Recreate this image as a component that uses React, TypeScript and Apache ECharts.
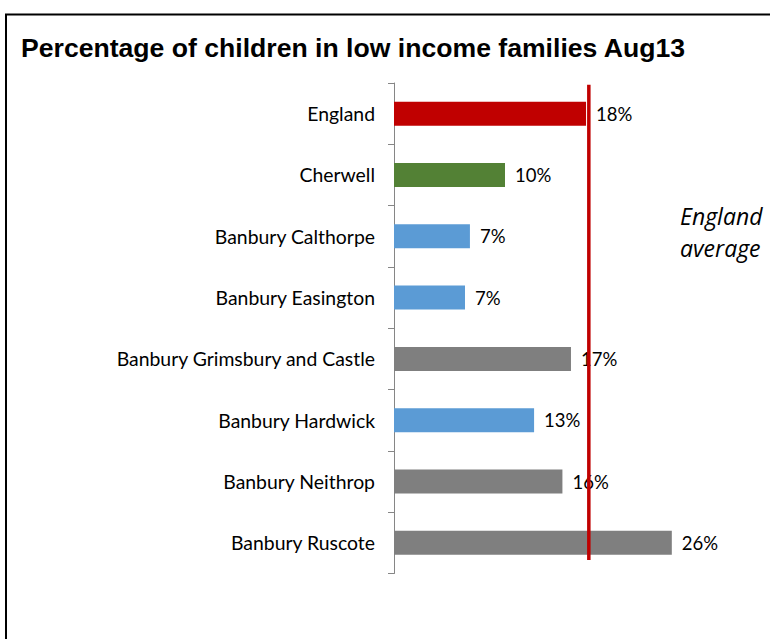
import React, { useEffect, useRef } from "react";
import * as echarts from "echarts";

const titleText = "Percentage of children in low income families Aug13";
const categories = [
  "England",
  "Cherwell",
  "Banbury Calthorpe",
  "Banbury Easington",
  "Banbury Grimsbury and Castle",
  "Banbury Hardwick",
  "Banbury Neithrop",
  "Banbury Ruscote",
];
const values = [17.96, 10.38, 7.1, 6.64, 16.55, 13.1, 15.75, 25.98];
const barColors = ["#C00000", "#538135", "#5B9BD5", "#5B9BD5", "#7F7F7F", "#5B9BD5", "#7F7F7F", "#7F7F7F"];
const englandAverage = 18.22;
const averageLineSpan = [0.03, 7.78];
const annotationLines = ["England", "average"];

export default function App() {
  const ref = useRef<HTMLDivElement>(null);
  useEffect(() => {
    if (!ref.current) return;
    const chart = echarts.init(ref.current, undefined, { renderer: "svg" });
    const font = "Lato";
    chart.setOption({
      animation: false,
      backgroundColor: "#ffffff",
      grid: { left: 394, top: 83, right: 55.2, bottom: 65.5, containLabel: false },
      xAxis: { type: "value", min: 0, max: 30, show: false },
      yAxis: [
        {
          type: "category",
          data: categories,
          inverse: true,
          axisLine: { show: true, lineStyle: { color: "#868686", width: 1 } },
          axisTick: { show: true, inside: false, length: 6, lineStyle: { color: "#868686" } },
          axisLabel: { fontFamily: font, fontSize: 19.4, color: "#000000", margin: 19 },
          splitLine: { show: false },
        },
        { type: "value", min: 0, max: 8, inverse: true, show: false },
      ],
      series: [
        {
          type: "bar",
          data: values.map((v, i) => ({ value: v, itemStyle: { color: barColors[i] } })),
          barWidth: 24,
          z: 2,
          label: {
            show: true,
            position: "right",
            distance: 10,
            formatter: (p: any) => Math.round(p.value) + "%",
            fontFamily: font,
            fontSize: 18.5,
            color: "#000000",
          },
        },
        {
          type: "line",
          yAxisIndex: 1,
          data: [
            [englandAverage, averageLineSpan[0]],
            [englandAverage, averageLineSpan[1]],
          ],
          symbol: "none",
          lineStyle: { color: "#C00000", width: 3.5 },
          z: 10,
          silent: true,
        },
      ],
      graphic: [
        {
          type: "rect",
          shape: { x: 6, y: 14.5, width: 900, height: 800 },
          style: { fill: "none", stroke: "#000000", lineWidth: 2 },
        },
        {
          type: "text",
          x: 21,
          y: 34,
          style: {
            text: titleText,
            font: 'bold 26.6px "Liberation Sans", Arial, sans-serif',
            fill: "#000000",
            verticalAlign: "top",
          },
        },
        {
          type: "text",
          x: 680,
          y: 216,
          style: {
            text: annotationLines[0],
            font: 'italic 23px "Open Sans"',
            fill: "#000000",
            verticalAlign: "middle",
          },
        },
        {
          type: "text",
          x: 680,
          y: 248,
          style: {
            text: annotationLines[1],
            font: 'italic 23px "Open Sans"',
            fill: "#000000",
            verticalAlign: "middle",
          },
        },
      ],
    });
    return () => chart.dispose();
  }, []);
  return (
    <div
      ref={ref}
      style={{ position: "fixed", left: 0, top: 0, width: 770, height: 639, background: "#fff" }}
    />
  );
}
